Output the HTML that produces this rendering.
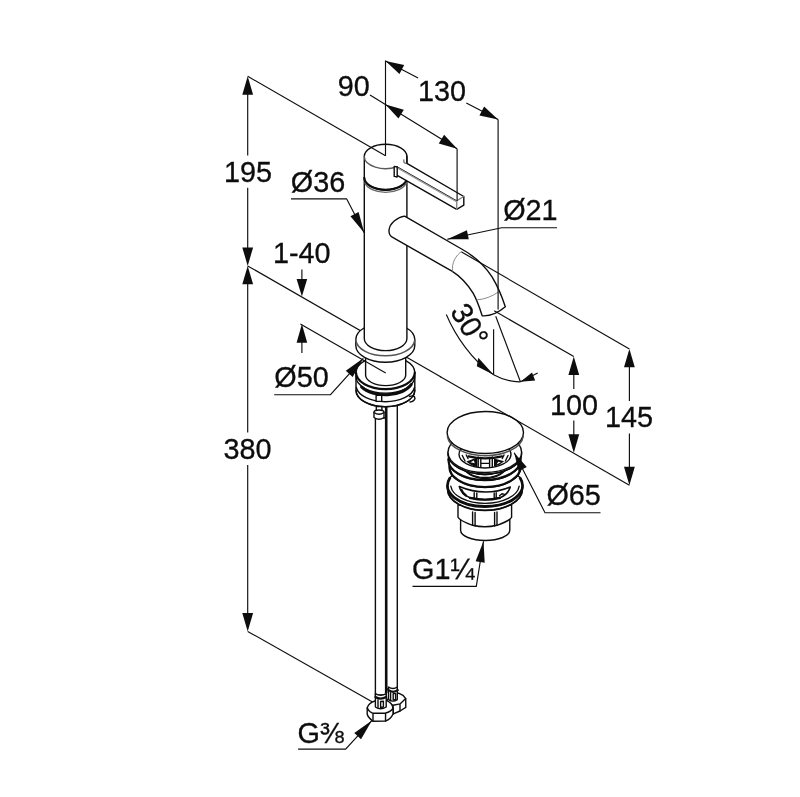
<!DOCTYPE html>
<html><head><meta charset="utf-8"><title>Faucet dimension drawing</title>
<style>
html,body{margin:0;padding:0;background:#fff;}
body{width:800px;height:797px;overflow:hidden;font-family:"Liberation Sans",sans-serif;}
svg{display:block;will-change:transform;}
.d{stroke:#0d0d0d;stroke-width:1.15;fill:none;stroke-linecap:butt;}
.o{stroke:#0d0d0d;stroke-width:1.4;fill:none;stroke-linecap:round;stroke-linejoin:round;}
.of{stroke:#0d0d0d;stroke-width:1.4;fill:#fff;stroke-linecap:round;stroke-linejoin:round;}
.k{stroke:#0d0d0d;stroke-width:2.2;fill:none;stroke-linecap:round;stroke-linejoin:round;}
.g{stroke:#8a8a8a;stroke-width:1;fill:none;stroke-linecap:round;}
.w{fill:#fff;stroke:none;}
.a polygon{fill:#0d0d0d;stroke:none;}
text{font-family:"Liberation Sans",sans-serif;font-size:28.8px;fill:#0d0d0d;stroke:#0d0d0d;stroke-width:0.3px;}
</style></head><body>
<svg width="800" height="797" viewBox="0 0 800 797">
<rect class="w" x="0" y="0" width="800" height="797"/>
<g id="ext-back">
<line class="d" x1="247.70" y1="265.90" x2="441.00" y2="376.96"/>
<line class="d" x1="247.70" y1="631.40" x2="372.50" y2="702.00"/>
</g>
<g id="hoses">
<path class="of" d="M386.2,404 L386.2,689 L397.3,689 L397.3,404 Z"/>
<path class="of" d="M375.4,418 L375.4,695 L386.2,695 L386.2,418 Z"/>
<line class="k" x1="386.2" y1="404" x2="386.2" y2="693" style="stroke-width:2.6;stroke-linecap:butt"/>
<path class="of" d="M386.5,701.5 L390,696 L398.6,693.2 L403,695.3 L405.7,698.6 L405.8,707.4 L400,711 L393.4,713.9 L390,713 Z"/>
<path class="o" d="M405.7,698.6 L400,703.9 L393,705.2 L388,703.5 M400,703.9 L400,711 M393,705.2 L393.4,713.9"/>
<path class="of" d="M388.5,687 L388.5,699.6 Q393,702.6 397.3,699.6 L397.3,687 Q393,690 388.5,687 Z"/>
<path class="o" d="M390.6,692.6 L390.6,700 M393.2,693.6 L395.6,693.4 L395.6,699.4 L393.2,699.8 Z"/>
<path class="of" d="M367.2,708 Q368.5,703 375,701 L386,700.3 Q392.5,702.5 393,708.5 L393,714 Q391,719 385.5,721 L373,721.3 Q368,717.5 367.2,714 Z"/>
<path class="o" d="M367.2,708 Q369,712 373,713.3 L385.6,713 Q391,711.5 393,708.5 M373,713.3 L373,721.3 M385.6,713 L385.5,721"/>
<path class="of" d="M375.4,693.7 L375.4,707 Q380.5,710.5 386.2,707 L386.2,693.7 Q380.5,697 375.4,693.7 Z"/>
<path class="k" d="M375.4,697 Q380.5,700.3 386.2,697"/>
<path class="o" d="M378,700 L378,707.5 M380.6,701.5 L383.4,701.3 L383.4,707 L380.6,707.5 Z"/>
<path class="k" d="M388.5,690.2 Q393,693.4 397.8,690.2"/>
</g>
<g id="stack">
<path class="of" d="M356,372.6 L356,390.2 A29.4,16.5 0 0 0 414.8,390.2 L414.8,372.6 A29.4,16.5 0 0 0 356,372.6 Z"/>
<path class="of" d="M409.5,396.5 Q414.5,394.5 415,398.5 Q414,401.5 410,402"/>
<path class="k"  d="M414.80,372.60 A29.40,16.50 0 0 1 356.00,372.60"/>
<path class="o"  d="M414.80,376.60 A29.40,16.50 0 0 1 356.00,376.60"/>
<path class="k" style="stroke-width:3" d="M411.24,384.54 A27.50,15.60 0 0 1 361.58,387.00"/>
<path class="o"  d="M414.51,387.50 A29.40,16.50 0 0 1 356.29,387.50"/>
<path class="o"  d="M414.80,390.20 A29.40,16.50 0 0 1 356.00,390.20"/>
<rect class="of" x="376.1" y="395.4" width="5.6" height="6" />
<rect class="of" x="376.3" y="406.5" width="5.6" height="5"/>
<path class="of" d="M374,412.2 Q374,410 379,410 Q384,410 384,412.2 L384,417.5 Q379,421 374,417.5 Z"/>
<path class="o" d="M374,412.5 Q379,416 384,412.5"/>
</g>
<g id="shank">
<path class="of" d="M365.6,352 L365.6,375 A20.05,10.6 0 0 0 405.7,375 L405.7,352 Z"/>
</g>
<g id="flange">
<path class="of" d="M355.8,339.5 L355.8,345.6 A29.5,16.6 0 0 0 414.8,345.6 L414.8,339.5 A29.5,16.6 0 0 0 355.8,339.5 Z"/>
<path class="g" style="stroke:#555;stroke-width:1.6" d="M414.73,340.36 A29.50,16.60 0 0 1 355.87,340.36"/>
</g>
<g id="body">
<path class="of" d="M364.3,178 L364.3,338.6 A21.3,12 0 0 0 406.9,338.6 L406.9,178 Z"/>
</g>
<g id="spout">
<path class="of" d="M404.6,216.1 C398,216.8 389.6,223 389,230.1 C388.7,234.2 390.4,236.4 393.1,237.7 L440,264.3 L452,271.1 C460.5,276.5 467.5,284 473.1,293.2 C477.5,301 480,309 482.2,315.8 Q494,316.5 505.3,306.8 C502.5,298 499,288.5 492.2,277.1 C486,267.5 475,256.5 461.6,249 Z"/>
<path class="g" d="M461.6,251.5 C455.5,255.5 451.5,263 452.6,271.1"/>
<path class="g" d="M477.1,299.9 Q488.5,299 498.4,292"/>
</g>
<g id="head">
<path class="of" d="M364.3,156.30 L364.3,177.7 A21.3,12 0 0 0 406.9,177.7 L406.9,156.30 A21.3,12 0 0 0 364.3,156.30 Z"/>
<path class="k"  d="M406.90,177.80 A21.30,12.00 0 0 1 364.30,177.80"/>
<path class="g" style="stroke:#666;stroke-width:1.2" d="M406.43,182.79 A21.30,12.00 0 0 1 364.77,182.79"/>
<path class="g" style="stroke:#5a5a5a;stroke-width:1.4" d="M396.89,166.78 A21.30,12.00 0 0 1 364.30,156.60"/>
<path class="w" d="M397.2,166.8 L404.3,162.7 L406.9,163.3 L463.8,196.5 L463.8,205.2 L456.7,209.3 L397.2,175.3 Z"/>
<rect class="w" x="405.9" y="164.2" width="2.4" height="12"/>
<path class="o" d="M406.9,156.30 L406.9,163.3 L463.8,196.5 L463.8,205.2 L456.7,209.3 L397.2,175.3"/>
<path class="g" style="stroke:#444;stroke-width:1" d="M403.9,159.8 L403.9,162.7 L406.7,163.6"/>
<path class="g" d="M397.2,166.8 L456.7,200.8"/>
<path class="g" style="stroke:#333;stroke-width:1" d="M397.2,166.8 L456.7,200.8"/>
<path class="g" style="stroke:#999;stroke-width:1.2" d="M397.4,168.0 L456.5,201.8"/>
<path class="g" style="stroke:#777;stroke-width:1.2" d="M456.7,200.8 L463.8,196.6"/>
<path class="g" style="stroke:#888;stroke-width:1.4" d="M456.7,201 L456.7,209.3"/>
<path class="of" d="M394.2,166.4 L397.2,167.0 L397.2,177.0 L394.2,176.4 Z"/>
</g>
<g id="drain">
<path class="of" d="M460.6,518 L460.6,530.3 A24.6,10.2 0 0 0 509.8,530.3 L509.8,518 Z"/>
<path class="of" d="M458,505 L458,517.2 Q459.5,520.5 472.6,525.3 Q485,528.3 497,525.3 Q510,520.5 511.6,517.2 L511.6,505 Z"/>
<path class="o" d="M472.6,512 L472.6,525.3 M475.1,512.4 L475.1,526 M494.6,512.4 L494.6,526 M497,512 L497,525.3"/>
<path class="of" d="M447.5,485.5 L447.5,489.5 A37.5,21 0 0 0 522.5,489.5 L522.5,485.5 Z"/>
<path class="o"  d="M522.30,489.30 A37.30,21.00 0 0 1 447.70,489.30"/>
<ellipse class="of" cx="485.00" cy="485.50" rx="37.50" ry="21.00"/>
<path class="k" style="stroke-width:2.8" d="M520.24,478.32 A37.50,21.00 0 1 1 449.76,478.32"/>
<path class="o"  d="M519.17,486.24 A34.30,18.80 0 0 1 450.83,486.24"/>
<path d="M459.3,486.6 Q485,497.3 510.3,487 Q508,494.5 500,497.8 Q485,501.5 470,497.8 Q461,494 459.3,486.6 Z" fill="#fff" stroke="#0d0d0d" stroke-width="1.6" stroke-linejoin="round"/>
<path class="k" d="M470,497.9 Q485,501.6 500,497.9"/>
<path class="o" d="M474.2,492.6 L474.2,498.6 M476.8,493 L476.8,499.2 M494.2,493 L494.2,499.2 M496.2,492.6 L496.2,498.6"/>
<path class="o" d="M499.5,495.8 l2.4,-2 l2.6,0.6"/>
<path class="k" d="M461.5,489.8 Q462.5,493 466,495.5"/>
<path class="of" d="M449.5,466 L449.5,467.5 A35.5,20 0 0 0 520.5,467.5 L520.5,466 Z"/>
<path class="k"  d="M520.15,464.22 A35.50,20.00 0 1 1 449.85,464.22"/>
<path class="of" d="M448.5,459 L448.5,460.5 A36,20 0 0 0 520.5,460.5 L520.5,459 Z"/>
<path class="k"  d="M520.36,458.26 A36.00,20.00 0 1 1 448.64,458.26"/>
<path class="of" d="M462,462 A23,15.5 0 0 0 508,462 Z"/>
<path class="o"  d="M507.45,465.86 A22.80,15.30 0 0 1 462.55,465.86"/>
<path class="o"  d="M505.67,465.46 A22.00,14.20 0 0 1 464.33,465.46"/>
<path class="of" d="M448,452 L448,453.8 A36.8,20.3 0 0 0 521.6,453.8 L521.6,452 Z"/>
<path class="o"  d="M521.58,454.51 A36.80,20.30 0 0 1 448.02,454.51"/>
<ellipse class="of" cx="484.80" cy="452.20" rx="36.80" ry="20.30"/>
<ellipse class="of" cx="485.00" cy="454.30" rx="26.00" ry="13.70"/>
<path d="M466.3,461.6 L477.3,457.6 L477.3,467.2 Q470.5,465.6 466.3,461.6 Z" fill="#0d0d0d"/>
<path d="M494,466.8 L494,458.6 L504.2,461.3 Q500,465.4 494,466.8 Z" fill="#0d0d0d"/>
<path d="M470.3,462.2 l3.6,-1.6 l0.8,2.6 Z M496.6,464.4 l1.6,-2.6 l2.6,0.4 Z" fill="#fff"/>
<path class="o" d="M478.2,457 L478.2,467 M480.8,457.4 L480.8,467.4 M489.6,457.4 L489.6,467.4 M492.3,457 L492.3,467 M480.8,463.4 L489.6,463.4"/>
<path class="o" d="M462.3,455.5 L465,461 M508,455.5 L505.4,461 M466.3,455 L468,458.5 M504,455 L502.3,458.5"/>
<path class="k" d="M468.5,456.4 Q485,460.5 502,456.4"/>
<ellipse class="of" cx="485.30" cy="432.50" rx="38.20" ry="21.00"/>
<path class="g" style="stroke:#505050;stroke-width:1.5" d="M523.16,436.53 A38.00,21.00 0 0 1 447.44,436.53"/>
</g>
<g id="dims">
<line class="d" x1="440.00" y1="376.38" x2="629.40" y2="485.20"/>
<line class="d" x1="385.50" y1="60.50" x2="385.50" y2="155.80"/>
<line class="d" x1="247.70" y1="76.30" x2="385.50" y2="155.80"/>
<line class="d" x1="247.70" y1="80.00" x2="247.70" y2="155.40"/>
<line class="d" x1="247.70" y1="187.80" x2="247.70" y2="262.00"/>
<line class="d" x1="247.70" y1="270.00" x2="247.70" y2="432.50"/>
<line class="d" x1="247.70" y1="465.00" x2="247.70" y2="628.00"/>
<line class="d" x1="385.50" y1="61.00" x2="418.10" y2="77.95"/>
<line class="d" x1="466.30" y1="103.00" x2="498.10" y2="119.50"/>
<line class="d" x1="498.10" y1="119.50" x2="498.10" y2="309.50"/>
<line class="d" x1="370.00" y1="95.00" x2="457.10" y2="148.75"/>
<line class="d" x1="457.10" y1="148.75" x2="457.10" y2="201.00"/>
<line class="d" x1="301.90" y1="269.40" x2="301.90" y2="292.00"/>
<line class="d" x1="301.90" y1="328.00" x2="301.90" y2="353.00"/>
<line class="d" x1="300.40" y1="324.10" x2="385.70" y2="373.10"/>
<line class="d" x1="494.20" y1="310.80" x2="573.80" y2="356.50"/>
<line class="d" x1="573.80" y1="360.00" x2="573.80" y2="388.90"/>
<line class="d" x1="573.80" y1="420.60" x2="573.80" y2="449.00"/>
<line class="d" x1="461.60" y1="252.00" x2="629.40" y2="348.90"/>
<line class="d" x1="629.40" y1="352.00" x2="629.40" y2="401.10"/>
<line class="d" x1="629.40" y1="433.60" x2="629.40" y2="481.00"/>
<line class="d" x1="493.60" y1="329.20" x2="493.60" y2="374.80"/>
<line class="d" x1="495.70" y1="316.30" x2="520.50" y2="382.00"/>
<path class="d" d="M446.3,314.5 C455,335 472,361 493.6,374.8 C503,380 511,382 520.5,381.8"/>
<line class="d" x1="520.50" y1="381.80" x2="537.70" y2="372.90"/>
<path class="d" d="M291,198.8 L346.6,198.8 L364.2,232.7"/>
<path class="d" d="M274.2,394.7 L330.5,394.7 L363.3,358.3"/>
<path class="d" d="M557,227.7 L501.7,227.7 L447.3,239.2"/>
<path class="d" d="M600.5,512.7 L545,512.7 L514.25,452.75"/>
<path class="d" d="M412.5,586.3 L476.3,586.3 L483.5,541.25"/>
<path class="d" d="M298.1,749.1 L345.6,749.1 L371.9,720.6"/>
</g>
<g class="a">
<polygon points="247.70,76.30 242.30,94.70 253.10,94.70"/>
<polygon points="247.70,265.90 253.10,247.50 242.30,247.50"/>
<polygon points="247.70,265.90 242.30,284.30 253.10,284.30"/>
<polygon points="247.70,631.40 253.10,613.00 242.30,613.00"/>
<polygon points="385.50,61.00 399.48,74.01 404.18,64.96"/>
<polygon points="498.10,119.50 484.12,106.49 479.42,115.54"/>
<polygon points="385.50,104.55 398.48,118.55 403.84,109.87"/>
<polygon points="457.10,148.75 444.12,134.75 438.76,143.43"/>
<polygon points="301.90,296.50 307.20,278.90 296.60,278.90"/>
<polygon points="301.90,324.10 296.60,342.70 307.20,342.70"/>
<polygon points="573.80,356.50 568.40,374.90 579.20,374.90"/>
<polygon points="573.80,452.70 579.20,434.30 568.40,434.30"/>
<polygon points="629.40,348.90 624.00,367.30 634.80,367.30"/>
<polygon points="629.40,485.20 634.80,466.80 624.00,466.80"/>
<polygon points="364.20,232.70 358.61,211.94 350.44,216.18"/>
<polygon points="363.30,358.30 345.82,370.82 352.66,376.98"/>
<polygon points="447.30,239.20 468.80,239.36 466.89,230.36"/>
<polygon points="514.25,452.75 518.59,471.31 526.78,467.12"/>
<polygon points="483.50,541.25 475.64,561.26 484.73,562.71"/>
<polygon points="371.90,720.60 354.28,732.91 361.04,739.15"/>
<polygon points="493.6,374.8 478.3,357.8 476.8,366.2"/>
<polygon points="520.5,381.7 532,372.4 535.2,380.5"/>
</g>
<g id="labels">
<text transform="translate(224.00,181.80) scale(1,1.050)" text-anchor="start" id="l195">195</text>
<text transform="translate(223.52,458.80) scale(1,1.050)" text-anchor="start" id="l380">380</text>
<text transform="translate(337.71,95.80) scale(1,1.050)" text-anchor="start" id="l90">90</text>
<text transform="translate(418.00,101.00) scale(1,1.050)" text-anchor="start" id="l130">130</text>
<text transform="translate(290.77,191.80) scale(1,1.050)" text-anchor="start" id="l36">Ø36</text>
<text transform="translate(273.00,263.10) scale(1,1.050)" text-anchor="start" id="l140">1-40</text>
<text transform="translate(274.32,386.80) scale(1,1.050)" text-anchor="start" id="l50">Ø50</text>
<text transform="translate(503.14,219.70) scale(1,1.050)" text-anchor="start" id="l21">Ø21</text>
<text transform="translate(549.90,414.60) scale(1,1.050)" text-anchor="start" id="l100">100</text>
<text transform="translate(605.00,427.00) scale(1,1.050)" text-anchor="start" id="l145">145</text>
<text transform="translate(546.38,504.80) scale(1,1.050)" text-anchor="start" id="l65">Ø65</text>
<text transform="translate(412.08,578.90) scale(1,1.050)" text-anchor="start" id="lg114">G1¼</text>
<text transform="translate(297.47,743.10) scale(1,1.050)" text-anchor="start" id="lg38">G⅜</text>
<text id="l30" transform="translate(449.5,311.5) rotate(59) scale(1,1.050)" x="0" y="0">30°</text>
</g>
</svg>
</body></html>
